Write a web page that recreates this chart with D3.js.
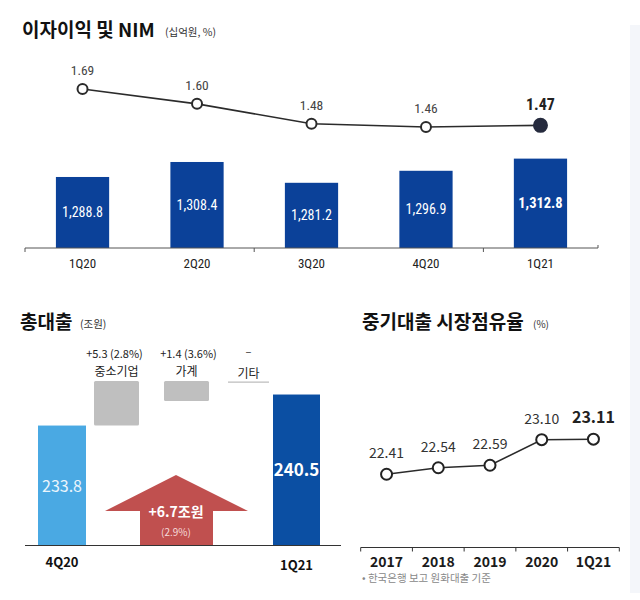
<!DOCTYPE html>
<html><head><meta charset="utf-8">
<script src="https://cdn.jsdelivr.net/npm/d3@7"></script>
<style>
body{margin:0;background:#fff;}
text{font-family:"Noto Sans CJK KR","Noto Sans",sans-serif;}
.narrow{font-family:"Liberation Sans Narrow","Roboto Condensed","Liberation Sans",sans-serif;}
</style></head>
<body><svg id="c" width="640" height="600"></svg>
<script>
// ---- data ----
const quarters = ["1Q20","2Q20","3Q20","4Q20","1Q21"];
const interestIncome = [1288.8, 1308.4, 1281.2, 1296.9, 1312.8];
const incomeLabels = ["1,288.8","1,308.4","1,281.2","1,296.9","1,312.8"];
const nim = [1.69, 1.60, 1.48, 1.46, 1.47];
const nimLabels = ["1.69","1.60","1.48","1.46","1.47"];

const loanPeriods = ["4Q20","1Q21"];
const totalLoans = [233.8, 240.5];
const loanChangeCats = ["중소기업","가계","기타"];
const loanChangeVals = [5.3, 1.4, 0];
const loanChangeLabels = ["+5.3 (2.8%)","+1.4 (3.6%)","–"];
const loanTotalChange = ["+6.7조원","(2.9%)"];

const years = ["2017","2018","2019","2020","1Q21"];
const smeShare = [22.41, 22.54, 22.59, 23.10, 23.11];
const smeShareLabels = ["22.41","22.54","22.59","23.10","23.11"];

const svg = d3.select("#c");

// right side panel
svg.append("rect").attr("x",630).attr("y",25).attr("width",10).attr("height",568).attr("fill","#f4f6fa");

// ===== Chart 1 =====
svg.append("text").attr("x",22).attr("y",37).attr("font-size",19).attr("font-weight",700).attr("fill","#111").text("이자이익 및 NIM");
svg.append("text").attr("x",165).attr("y",36).attr("font-size",10.5).attr("fill","#333").text("(십억원, %)");

const x1 = d3.scaleBand().domain(quarters).range([25,598]).paddingInner(0.535).paddingOuter(0.27);
const y1 = d3.scaleLinear().domain([1196,1340]).range([248,137.8]);
const yN = d3.scaleLinear().domain([1.4,1.7]).range([136.9,87.35]);

svg.selectAll(".b1").data(quarters).join("rect")
  .attr("x",d=>x1(d)).attr("width",x1.bandwidth())
  .attr("y",(d,i)=>y1(interestIncome[i])).attr("height",(d,i)=>248-y1(interestIncome[i]))
  .attr("fill","#0b4199");
svg.selectAll(".bl1").data(quarters).join("text").attr("class","narrow")
  .attr("x",d=>x1(d)+x1.bandwidth()/2)
  .attr("y",(d,i)=>(y1(interestIncome[i])+248)/2+5)
  .attr("text-anchor","middle").attr("font-size",(d,i)=>i==4?14.5:14)
  .attr("font-weight",(d,i)=>i==4?700:400).attr("fill","#fff")
  .text((d,i)=>incomeLabels[i]);

// axis
const ax1 = svg.append("g").attr("transform","translate(0,248)");
ax1.append("line").attr("x1",25).attr("x2",598).attr("stroke","#555").attr("stroke-width",1);
const step1 = (598-25)/5;
[0,2,4,5].forEach(i=>ax1.append("line").attr("x1",25+i*step1).attr("x2",25+i*step1).attr("y1",0).attr("y2",i==5?-3:4).attr("stroke","#555"));
svg.selectAll(".xl1").data(quarters).join("text").attr("class","narrow")
  .attr("x",d=>x1(d)+x1.bandwidth()/2).attr("y",268).attr("text-anchor","middle")
  .attr("font-size",13).attr("fill","#222").text(d=>d);

// NIM line
const cx1 = d=>x1(d)+x1.bandwidth()/2;
svg.append("path").datum(quarters)
  .attr("d",d3.line().x(d=>cx1(d)).y((d,i)=>yN(nim[i])))
  .attr("fill","none").attr("stroke","#2b2b2b").attr("stroke-width",1.6);
svg.selectAll(".p1").data(quarters).join("circle")
  .attr("cx",cx1).attr("cy",(d,i)=>yN(nim[i])).attr("r",(d,i)=>i==4?6.5:5)
  .attr("fill",(d,i)=>i==4?"#262b3e":"#fff").attr("stroke",(d,i)=>i==4?"#262b3e":"#2b2b2b").attr("stroke-width",2);
svg.selectAll(".nl").data(quarters).join("text").attr("class","narrow")
  .attr("x",cx1).attr("y",(d,i)=>yN(nim[i])-(i==4?15:14)).attr("text-anchor","middle")
  .attr("font-size",(d,i)=>i==4?16:13.5).attr("font-weight",(d,i)=>i==4?700:400)
  .attr("fill",(d,i)=>i==4?"#222":"#444").text((d,i)=>nimLabels[i]);

// ===== Chart 2 =====
svg.append("text").attr("x",20).attr("y",329).attr("font-size",19).attr("font-weight",700).attr("fill","#111").text("총대출");
svg.append("text").attr("x",80).attr("y",328).attr("font-size",10.5).attr("fill","#333").text("(조원)");

const base2 = 545;
const y2 = d3.scaleLinear().domain([208,250]).range([base2, base2-42*4.63]);
const barX = {"4Q20":[38,86],"1Q21":[273,320]};
loanPeriods.forEach((p,i)=>{
  const [a,b]=barX[p];
  svg.append("rect").attr("x",a).attr("width",b-a).attr("y",y2(totalLoans[i])).attr("height",base2-y2(totalLoans[i]))
    .attr("fill",i==0?"#4aa9e3":"#0b4fa3");
  svg.append("text").attr("x",(a+b)/2).attr("y",(i==0?486:470)+6).attr("text-anchor","middle")
    .attr("font-size",i==0?16:17).attr("font-weight",i==0?400:700).attr("fill",i==0?"#eaf5fc":"#fff")
    .text(totalLoans[i].toFixed(1));
  svg.append("text").attr("x",(a+b)/2).attr("y",i==0?567:570).attr("text-anchor","middle")
    .attr("font-size",13).attr("font-weight",700).attr("fill","#111").text(p);
});
// change bars (schematic)
const hC = d3.scalePow().exponent(0.6).domain([0,5.3]).range([0,44.5]);
const topC = y2(totalLoans[0]) - hC(loanChangeVals[0]);
const chgX = [[94,139],[164,209],[228,269]];
loanChangeCats.forEach((c,i)=>{
  const [a,b]=chgX[i];
  if(loanChangeVals[i]>0){
    svg.append("rect").attr("x",a).attr("width",b-a).attr("y",topC).attr("height",hC(loanChangeVals[i]))
      .attr("rx",1.5).attr("fill","#bfbfbf");
  } else {
    svg.append("line").attr("x1",a).attr("x2",b).attr("y1",topC+1).attr("y2",topC+1).attr("stroke","#bdbdbd").attr("stroke-width",1.2);
  }
  svg.append("text").attr("x",(a+b)/2+(i==0?-2:i==1?2:0)).attr("y",i==2?356:358).attr("text-anchor","middle")
    .attr("font-size",11).attr("fill","#222").text(loanChangeLabels[i]);
  svg.append("text").attr("x",(a+b)/2).attr("y",i==2?378:376).attr("text-anchor","middle")
    .attr("font-size",12).attr("fill","#222").text(c);
});
// arrow
const arrowPts = [[176,475],[248,511],[213,511],[213,base2],[140,base2],[140,511],[105,511]];
svg.append("path").attr("d",d3.line()(arrowPts)+"Z").attr("fill","#c0504f");
svg.append("text").attr("x",176).attr("y",517).attr("text-anchor","middle").attr("font-size",14).attr("font-weight",700).attr("fill","#fff").text(loanTotalChange[0]);
svg.append("text").attr("x",176).attr("y",536).attr("text-anchor","middle").attr("font-size",10).attr("fill","#f6dcdc").text(loanTotalChange[1]);
// axis
svg.append("line").attr("x1",25).attr("x2",341).attr("y1",base2+0.5).attr("y2",base2+0.5).attr("stroke","#333").attr("stroke-width",1);

// ===== Chart 3 =====
svg.append("text").attr("x",362).attr("y",329).attr("font-size",19).attr("font-weight",700).attr("fill","#111").text("중기대출 시장점유율");
svg.append("text").attr("x",533).attr("y",328).attr("font-size",10).attr("fill","#333").text("(%)");

const x3 = d3.scaleBand().domain(years).range([360.7,619.3]);
const y3 = d3.scaleLinear().domain([22,23.5]).range([494.8,419.65]);
const cx3 = d=>x3(d)+x3.bandwidth()/2;
const ax3 = svg.append("g").attr("transform","translate(0,547.5)");
ax3.append("line").attr("x1",360.7).attr("x2",619.3).attr("stroke","#333");
years.concat(["end"]).forEach((d,i)=>{const xx=360.7+i*x3.step();
  ax3.append("line").attr("x1",xx).attr("x2",xx).attr("y1",0).attr("y2",4).attr("stroke","#333");});
svg.selectAll(".xl3").data(years).join("text").attr("x",cx3).attr("y",567).attr("text-anchor","middle")
  .attr("font-size",14).attr("font-weight",700).attr("fill","#1a1a1a").text(d=>d);
svg.append("path").datum(years).attr("d",d3.line().x(cx3).y((d,i)=>y3(smeShare[i])))
  .attr("fill","none").attr("stroke","#2b2b2b").attr("stroke-width",1.6);
svg.selectAll(".p3").data(years).join("circle").attr("cx",cx3).attr("cy",(d,i)=>y3(smeShare[i])).attr("r",5.5)
  .attr("fill","#fff").attr("stroke","#222").attr("stroke-width",2);
svg.selectAll(".l3").data(years).join("text").attr("x",cx3).attr("y",(d,i)=>y3(smeShare[i])-16)
  .attr("text-anchor","middle").attr("font-size",(d,i)=>i==4?16:14).attr("font-weight",(d,i)=>i==4?700:400)
  .attr("fill",(d,i)=>i==4?"#222":"#333").text((d,i)=>smeShareLabels[i]);
svg.append("text").attr("x",362).attr("y",582).attr("font-size",10.5).attr("fill","#888").text("• 한국은행 보고 원화대출 기준");
</script></body></html>
